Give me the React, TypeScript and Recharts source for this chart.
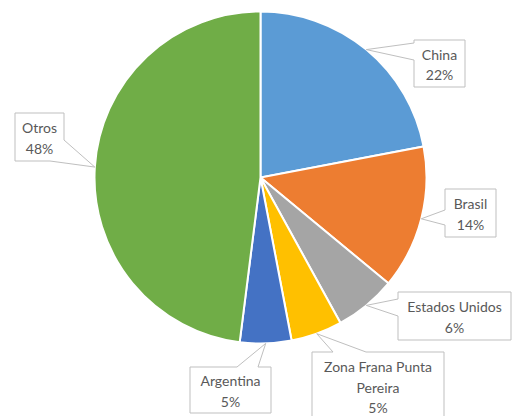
import { Cell, Pie, PieChart } from "recharts";

const categories = ["China", "Brasil", "Estados Unidos", "Zona Frana Punta Pereira", "Argentina", "Otros"];
const shares = [22, 14, 6, 5, 5, 48];
const colors = ["#5B9BD5", "#ED7D31", "#A5A5A5", "#FFC000", "#4472C4", "#70AD47"];
// how each callout breaks its category name
const labelLines = [["China"], ["Brasil"], ["Estados Unidos"], ["Zona Frana Punta", "Pereira"], ["Argentina"], ["Otros"]];

type Side = "top" | "right" | "bottom" | "left";
type Box = { x: number; y: number; w: number; h: number; base: [Side, number][] };

// callout boxes, placed like the original workbook did
const boxes: Box[] = [
  { x: 414, y: 40, w: 51, h: 47, base: [["left", 3], ["left", 20]] },
  { x: 445, y: 189, w: 51, h: 48, base: [["left", 21], ["left", 36]] },
  { x: 398, y: 292, w: 113, h: 48, base: [["left", 7], ["left", 24]] },
  { x: 312, y: 352, w: 132, h: 68, base: [["top", 21], ["top", 54]] },
  { x: 190, y: 367, w: 81, h: 46, base: [["top", 47], ["top", 68]] },
  { x: 15, y: 113, w: 49, h: 48, base: [["right", 27], ["bottom", 35]] },
];

const data = categories.map((name, i) => ({ name, value: shares[i] }));

const RAD = Math.PI / 180;

function perim(side: Side, off: number, w: number, h: number) {
  if (side === "top") return off;
  if (side === "right") return w + off;
  if (side === "bottom") return w + h + (w - off);
  return 2 * w + h + (h - off);
}

function pointAt(t: number, b: Box): [number, number] {
  const { x, y, w, h } = b;
  if (t <= w) return [x + t, y];
  if (t <= w + h) return [x + w, y + t - w];
  if (t <= 2 * w + h) return [x + w - (t - w - h), y + h];
  return [x, y + h - (t - 2 * w - h)];
}

function calloutPath(b: Box, tip: [number, number]) {
  const ts = b.base.map(([s, o]) => perim(s, o, b.w, b.h)).sort((a, c) => a - c);
  const corners = [b.w, b.w + b.h, 2 * b.w + b.h];
  const pts: [number, number][] = [pointAt(0, b)];
  corners.filter((c) => c < ts[0]).forEach((c) => pts.push(pointAt(c, b)));
  pts.push(pointAt(ts[0], b), tip, pointAt(ts[1], b));
  corners.filter((c) => c > ts[1]).forEach((c) => pts.push(pointAt(c, b)));
  return "M" + pts.map((p) => `${p[0]},${p[1]}`).join("L") + "Z";
}

function renderCallout(props: any) {
  const { cx, cy, midAngle, outerRadius, index } = props;
  const b = boxes[index];
  const tip: [number, number] = [
    cx + outerRadius * Math.cos(-midAngle * RAD),
    cy + outerRadius * Math.sin(-midAngle * RAD),
  ];
  const lines = [...labelLines[index], `${shares[index]}%`];
  const lh = 20.5;
  const mid = b.y + b.h / 2 + 1;
  return (
    <g key={`callout-${index}`}>
      <path d={calloutPath(b, tip)} fill="#ffffff" stroke="#BFBFBF" strokeWidth={1} />
      {lines.map((t, i) => (
        <text
          key={i}
          x={b.x + b.w / 2}
          y={mid + (i - (lines.length - 1) / 2) * lh}
          textAnchor="middle"
          dominantBaseline="central"
          fontSize={14}
          fontFamily="Lato, 'Open Sans', sans-serif"
          fill="#595959"
        >
          {t}
        </text>
      ))}
    </g>
  );
}

export default function App() {
  return (
    <div style={{ position: "absolute", left: 0, top: 0, width: 512, height: 416, background: "#fff" }}>
      <PieChart width={512} height={416} margin={{ top: 0, right: 0, bottom: 0, left: 0 }}>
        <Pie
          data={data}
          dataKey="value"
          nameKey="name"
          cx={260.5}
          cy={177.5}
          outerRadius={166}
          startAngle={90}
          endAngle={-270}
          stroke="#ffffff"
          strokeWidth={2}
          label={renderCallout}
          labelLine={false}
          isAnimationActive={false}
        >
          {data.map((d, i) => (
            <Cell key={d.name} fill={colors[i]} />
          ))}
        </Pie>
      </PieChart>
    </div>
  );
}
